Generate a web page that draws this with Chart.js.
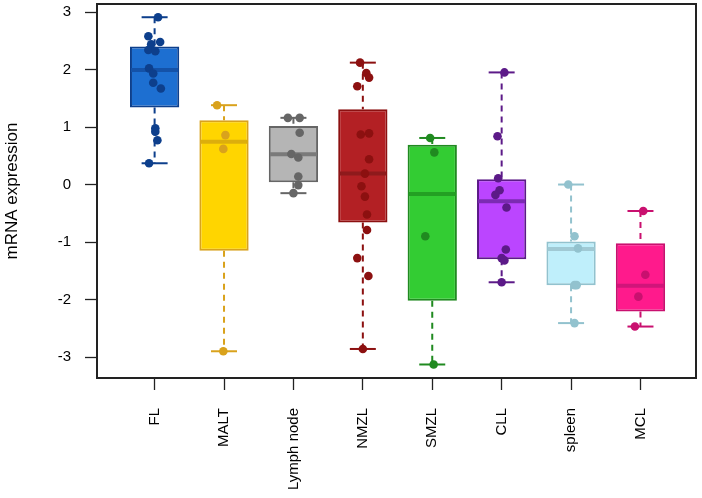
<!DOCTYPE html>
<html>
<head>
<meta charset="utf-8">
<script src="https://cdn.jsdelivr.net/npm/chart.js@4"></script>
<style>
  body { margin: 0; background: #fff; }
  #wrap { width: 702px; height: 498px; }
</style>
</head>
<body>
<div id="wrap"><canvas id="boxChart"></canvas></div>
<script>
// Categories and box statistics
const groups = ['FL', 'MALT', 'Lymph node', 'NMZL', 'SMZL', 'CLL', 'spleen', 'MCL'];
const q1 = [1.34, -1.15, 0.04, -0.66, -2.02, -1.30, -1.75, -2.21];
const median = [1.99, 0.745, 0.525, 0.19, -0.165, -0.29, -1.12, -1.76];
const q3 = [2.40, 1.12, 1.02, 1.31, 0.69, 0.09, -0.99, -1.02];
const whiskerLow = [0.37, -2.90, -0.15, -2.86, -3.13, -1.70, -2.41, -2.47];
const whiskerHigh = [2.91, 1.38, 1.16, 2.12, 0.81, 1.95, 0.00, -0.46];
const yTicks = [-3, -2, -1, 0, 1, 2, 3];

// Individual samples (value) and their horizontal jitter (in category units)
const flValues = [2.91, 2.58, 2.44, 2.48, 2.34, 2.32, 2.02, 1.93, 1.77, 1.67, 0.98, 0.92, 0.77, 0.37];
const flJitter = [0.05, -0.09, -0.05, 0.08, -0.09, 0.01, -0.08, -0.02, -0.02, 0.09, 0.01, 0.01, 0.04, -0.08];
const maltValues = [1.38, 0.86, 0.62, -2.90];
const maltJitter = [-0.10, 0.02, -0.01, -0.01];
const lymphValues = [1.16, 1.16, 0.90, 0.53, 0.47, 0.14, -0.01, -0.15];
const lymphJitter = [-0.08, 0.09, 0.09, -0.03, 0.07, 0.07, 0.07, 0.00];
const nmzlValues = [2.12, 1.94, 1.86, 1.71, 0.87, 0.89, 0.44, 0.19, -0.03, -0.21, -0.52, -0.79, -1.28, -1.59, -2.86];
const nmzlJitter = [-0.04, 0.05, 0.09, -0.08, -0.03, 0.09, 0.09, 0.03, -0.02, 0.03, 0.06, 0.06, -0.08, 0.08, 0.00];
const smzlValues = [0.81, 0.56, -0.90, -3.13];
const smzlJitter = [-0.03, 0.03, -0.10, 0.02];
const cllValues = [1.95, 0.84, 0.11, -0.10, -0.18, -0.40, -1.13, -1.28, -1.32, -1.70];
const cllJitter = [0.04, -0.06, -0.05, -0.03, -0.09, 0.07, 0.06, 0.00, 0.04, 0.00];
const spleenValues = [0.00, -0.90, -1.11, -1.75, -1.75, -2.41];
const spleenJitter = [-0.04, 0.05, 0.10, 0.05, 0.08, 0.05];
const mclValues = [-0.46, -1.57, -1.95, -2.47];
const mclJitter = [0.04, 0.07, -0.03, -0.08];

const allValues = [flValues, maltValues, lymphValues, nmzlValues, smzlValues, cllValues, spleenValues, mclValues];
const allJitter = [flJitter, maltJitter, lymphJitter, nmzlJitter, smzlJitter, cllJitter, spleenJitter, mclJitter];

// Colours
const fillColors = ['#1d6fd1', '#ffd500', '#b5b5b5', '#b32024', '#33cc33', '#bb45ff', '#bfeffb', '#ff1a8c'];
const darkColors = ['#0d3f8c', '#d9a21c', '#666666', '#8c1010', '#208a20', '#5c1a88', '#92c2ce', '#c9106f'];
const medianColors = ['#1452a8', '#dcae0c', '#7a7a7a', '#8e1a1c', '#23a023', '#7b2bb2', '#a0c9d4', '#d0157a'];

const font = "'Liberation Sans', Arial, sans-serif";

const datasets = [];

// whiskers (dashed)
groups.forEach((g, i) => {
    const x = i + 1;
    datasets.push({
        type: 'line',
        data: [{x: x, y: whiskerHigh[i]}, {x: x, y: q3[i]}, {x: x, y: null}, {x: x, y: q1[i]}, {x: x, y: whiskerLow[i]}],
        borderColor: darkColors[i],
        borderWidth: 2,
        borderDash: [6, 5],
        pointRadius: 0,
        spanGaps: false,
        order: 5
    });
});

// boxes
datasets.push({
    type: 'bar',
    data: groups.map((g, i) => ({x: i + 1, y: [q1[i], q3[i]]})),
    backgroundColor: fillColors,
    borderColor: darkColors,
    borderWidth: 2,
    borderSkipped: false,
    categoryPercentage: 0.71,
    barPercentage: 1,
    order: 4
});

// medians
datasets.push({
    type: 'scatter',
    data: groups.map((g, i) => ({x: i + 1, y: median[i]})),
    pointStyle: 'line',
    pointRadius: 23.5,
    pointBorderWidth: 4,
    pointBorderColor: medianColors,
    order: 3
});

// whisker caps
datasets.push({
    type: 'scatter',
    data: groups.map((g, i) => ({x: i + 1, y: whiskerHigh[i]})).concat(groups.map((g, i) => ({x: i + 1, y: whiskerLow[i]}))),
    pointStyle: 'line',
    pointRadius: 13,
    pointBorderWidth: 2,
    pointBorderColor: darkColors.concat(darkColors),
    order: 2
});

// samples
groups.forEach((g, i) => {
    datasets.push({
        type: 'scatter',
        data: allValues[i].map((v, k) => ({x: i + 1 + allJitter[i][k], y: v})),
        pointRadius: 4.3,
        pointBackgroundColor: darkColors[i],
        pointBorderColor: darkColors[i],
        pointBorderWidth: 0,
        order: 1
    });
});

const frame = {
    id: 'frame',
    afterDraw(chart) {
        const {ctx, chartArea: a} = chart;
        ctx.save();
        ctx.strokeStyle = '#222';
        ctx.lineWidth = 2;
        ctx.strokeRect(a.left, a.top, a.right - a.left, a.bottom - a.top);
        ctx.restore();
    }
};

function noPad(s) {
    s.paddingTop = 0;
    s.paddingBottom = 0;
    s.paddingLeft = 0;
    s.paddingRight = 0;
}

const ctx = document.getElementById('boxChart').getContext('2d');
const boxChart = new Chart(ctx, {
    type: 'bar',
    data: { datasets: datasets },
    options: {
        responsive: true,
        maintainAspectRatio: false,
        animation: false,
        layout: { autoPadding: false, padding: { top: 4, right: 6, left: 0, bottom: 0 } },
        plugins: { legend: { display: false }, tooltip: { enabled: false } },
        scales: {
            x: {
                type: 'linear',
                offset: false,
                min: 0.17,
                max: 8.8,
                afterBuildTicks: s => { s.ticks = groups.map((g, i) => ({value: i + 1})); },
                afterFit: s => { s.height = 120; noPad(s); },
                ticks: {
                    callback: v => groups[v - 1],
                    minRotation: 90,
                    maxRotation: 90,
                    autoSkip: false,
                    padding: 18,
                    color: '#000',
                    font: { family: font, size: 15 }
                },
                grid: { display: true, offset: false, drawOnChartArea: false, drawTicks: true, tickLength: 12, tickColor: '#222', tickWidth: 1.3 },
                border: { display: false }
            },
            y: {
                min: -3.365,
                max: 3.14,
                afterBuildTicks: s => { s.ticks = yTicks.map(v => ({value: v})); },
                afterFit: s => { s.width = 97; noPad(s); },
                ticks: {
                    padding: 14,
                    color: '#000',
                    font: { family: font, size: 15 }
                },
                grid: { display: true, drawOnChartArea: false, drawTicks: true, tickLength: 12, tickColor: '#222', tickWidth: 1.3 },
                border: { display: false },
                title: {
                    display: true,
                    text: 'mRNA expression',
                    color: '#000',
                    padding: { top: 2, bottom: 0 },
                    font: { family: font, size: 17 }
                }
            }
        }
    },
    plugins: [frame]
});
</script>
</body>
</html>
